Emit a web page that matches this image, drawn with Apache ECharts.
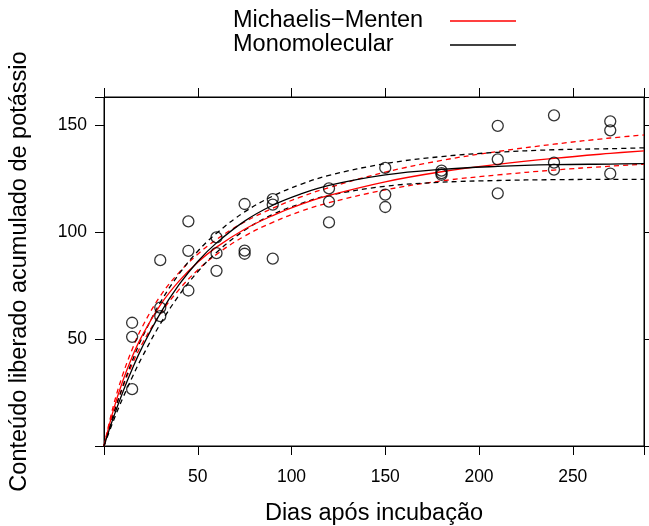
<!DOCTYPE html>
<html>
<head>
<meta charset="utf-8">
<script src="https://cdn.jsdelivr.net/npm/echarts@6/dist/echarts.min.js"></script>
<style>html,body{margin:0;padding:0;background:#fff;}#c{width:649px;height:526px;}</style>
</head>
<body>
<div id="c"></div>
<script>
// Observed data: days after incubation and accumulated potassium
const days = [15,15,15,30,30,30,45,45,45,60,60,60,75,75,75,90,90,90,120,120,120,150,150,150,180,180,180,210,210,210,240,240,240,270,270,270];
const potassium = [57.7,51.1,26.6,87.0,64.8,60.8,105.2,91.4,72.8,97.7,90.3,82.0,113.3,91.5,90.0,115.6,113.0,87.7,120.6,114.4,104.7,130.2,117.7,111.9,128.9,127.8,127.0,149.9,134.2,118.3,154.8,132.7,129.4,152.0,147.8,127.5];

// Fitted curves
const curveX = [0,5,10,15,20,30,40,50,60,75,90,105,120,150,180,210,240,270,288];
const mmFit   = [0,16.8,30.4,41.7,51.1,66.0,77.2,86.0,93.1,101.5,107.9,113.1,117.3,123.7,128.4,131.9,134.7,137.0,138.2];
const mmUpper = [0,18.8,33.4,45.2,55.1,70.2,81.2,89.8,96.7,104.9,111.3,116.6,121.0,128.2,133.7,137.9,141.3,144.2,145.6];
const mmLower = [0,14.8,27.4,38.2,47.3,61.8,73.2,82.4,89.7,98.3,104.7,109.9,113.9,119.9,124.1,126.9,129.2,131.0,131.9];
const monoFit   = [0,13.3,25.2,35.9,45.6,62.1,75.5,86.4,95.1,105.3,112.7,118.0,122.0,126.9,129.5,130.9,131.7,132.0,132.2];
const monoUpper = [0,14.8,28.0,39.7,50.1,67.1,80.5,91.2,99.6,109.6,117.0,122.5,126.7,132.2,135.5,137.5,138.7,139.2,139.6];
const monoLower = [0,11.8,22.4,32.1,41.1,57.1,70.5,81.6,90.6,101.0,108.4,113.5,117.3,121.6,123.5,124.3,124.7,124.8,124.8];

const xTicks = [50,100,150,200,250];
const yTicks = [50,100,150];
const legendNames = ['Michaelis\u2212Menten','Monomolecular'];

function pairs(xs, ys){ return xs.map((x,i)=>[x, ys[i]]); }

const FONT = '"Liberation Sans", Arial, Helvetica, sans-serif';
const chart = echarts.init(document.getElementById('c'), null, {renderer:'canvas'});

function lineSeries(name, ys, color, dashed){
  return {
    name: name, type:'line', data: pairs(curveX, ys), smooth: 0.4, showSymbol:false, symbol:'none',
    lineStyle:{color:color, width:1.3, type: dashed?[5,4]:'solid'},
    itemStyle:{color:color}, clip:true, silent:true, z: dashed?3:4
  };
}

const option = {
  animation:false,
  backgroundColor:'#fff',
  textStyle:{fontFamily:FONT},
  legend:{
    data: legendNames.map(n => ({name:n, icon:'rect'})),
    orient:'vertical', left:233, top:9, align:'right', padding:0,
    itemWidth:66, itemHeight:1.5, itemGap:0,
    formatter: n => '{t|' + n + '}',
    textStyle:{fontFamily:FONT, fontSize:23.5, color:'#000',
      rich:{t:{width:212, align:'left', fontFamily:FONT, fontSize:23.5, color:'#000', lineHeight:24}}},
    selectedMode:false
  },
  grid:{left:104, right:5, top:97, bottom:80, outerBoundsMode:'none', containLabel:false,
    show:true, borderColor:'#000', borderWidth:1, backgroundColor:'transparent'},
  xAxis:[{
    type:'value', min:0, max:288, interval:50, position:'bottom',
    name:'Dias após incubação', nameLocation:'middle', nameGap:56,
    nameTextStyle:{fontFamily:FONT, fontSize:23.5, color:'#000'},
    axisLine:{show:true, onZero:false, lineStyle:{color:'#000', width:1}},
    axisTick:{show:true, inside:false, length:9, lineStyle:{color:'#000', width:1}},
    axisLabel:{margin:22, fontSize:17.5, color:'#000', fontFamily:FONT,
      formatter: v => xTicks.indexOf(v)>=0 ? String(v) : ''},
    splitLine:{show:false}
  },{
    type:'value', min:0, max:288, interval:50, position:'top',
    axisLine:{show:true, onZero:false, lineStyle:{color:'#000', width:1}},
    axisTick:{show:true, inside:false, length:9, lineStyle:{color:'#000', width:1}},
    axisLabel:{show:false}, splitLine:{show:false}
  }],
  yAxis:[{
    type:'value', min:0, max:163.4, interval:50, position:'left',
    name:'Conteúdo liberado acumulado de potássio', nameLocation:'middle', nameGap:72,
    nameTextStyle:{fontFamily:FONT, fontSize:23.5, color:'#000'},
    axisLine:{show:true, onZero:false, lineStyle:{color:'#000', width:1}},
    axisTick:{show:true, inside:false, length:9, lineStyle:{color:'#000', width:1}},
    axisLabel:{margin:17, fontSize:17.5, color:'#000', fontFamily:FONT,
      formatter: v => yTicks.indexOf(v)>=0 ? String(v) : ''},
    splitLine:{show:false}
  },{
    type:'value', min:0, max:163.4, interval:50, position:'right',
    axisLine:{show:true, onZero:false, lineStyle:{color:'#000', width:1}},
    axisTick:{show:true, inside:false, length:9, lineStyle:{color:'#000', width:1}},
    axisLabel:{show:false}, splitLine:{show:false}
  }],
  series:[
    {
      name:'Observado', type:'scatter', data: pairs(days, potassium),
      symbol:'circle', symbolSize:11,
      itemStyle:{color:'transparent', borderColor:'#000', borderWidth:1.3},
      z:5, silent:true
    },
    lineSeries('mmUpper', mmUpper, '#ff0000', true),
    lineSeries('mmLower', mmLower, '#ff0000', true),
    lineSeries('monoUpper', monoUpper, '#000000', true),
    lineSeries('monoLower', monoLower, '#000000', true),
    lineSeries(legendNames[0], mmFit, '#ff0000', false),
    lineSeries(legendNames[1], monoFit, '#000000', false)
  ]
};
chart.setOption(option);
</script>
</body>
</html>
